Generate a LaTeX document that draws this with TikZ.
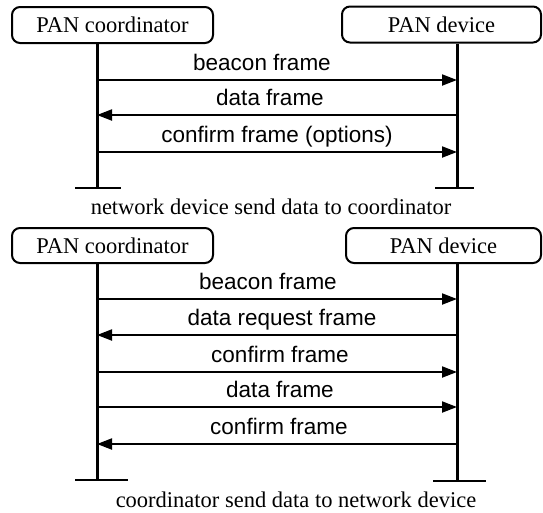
\documentclass[tikz,border=0pt]{standalone}
\usepackage{fontspec}
\setmainfont{Liberation Serif}
\newfontfamily\msgfont{Liberation Sans}
\usetikzlibrary{arrows.meta}

\tikzset{
  actor/.style={draw, line width=2pt, rounded corners=8pt, minimum height=36pt,
    inner sep=0pt, font=\fontsize{22.5}{27}\selectfont},
  lifeline/.style={line width=3pt},
  endbar/.style={line width=2.5pt},
  msg/.style={line width=2pt, -{Triangle[length=15pt,width=11pt]}},
  msglabel/.style={anchor=base, inner sep=0pt, font=\msgfont\fontsize{22.5}{27}\selectfont},
  caption/.style={anchor=base, inner sep=0pt, font=\fontsize{22.5}{27}\selectfont}
}

\begin{document}
\begin{tikzpicture}[x=1pt,y=-1pt]
\useasboundingbox[fill=white] (0,0) rectangle (543,512);

% ---------- upper chart: network device sends data to coordinator ----------
\node[actor, minimum width=201pt] (coordA) at (112.5,25) {PAN coordinator};
\node[actor, minimum width=199pt] (devA) at (441.5,24.5) {PAN device};

\coordinate (coordAend) at (97,188);
\coordinate (devAend) at (457,188);
\draw[lifeline] (coordA.south -| coordAend) -- (coordAend);
\draw[lifeline] (devA.south -| devAend) -- (devAend);
\draw[endbar] (75,188) -- (121,188);
\draw[endbar] (435,188) -- (474,188);

\coordinate (a1l) at (97,80);  \coordinate (a1r) at (457,80);
\coordinate (a2l) at (97,115); \coordinate (a2r) at (457,115);
\coordinate (a3l) at (97,152); \coordinate (a3r) at (457,152);
\draw[msg] (a1l) -- (a1r);
\draw[msg] (a2r) -- (a2l);
\draw[msg] (a3l) -- (a3r);
\node[msglabel] (la1) at (262,70) {beacon frame};
\node[msglabel] (la2) at (270,105) {data frame};
\node[msglabel] (la3) at (277,142) {confirm frame (options)};

\node[caption] (capA) at (271,214) {network device send data to coordinator};

% ---------- lower chart: coordinator sends data to network device ----------
\node[actor, minimum width=201pt, minimum height=35pt] (coordB) at (112.5,245.5) {PAN coordinator};
\node[actor, minimum width=195pt, minimum height=35pt] (devB) at (443.5,245.5) {PAN device};

\coordinate (coordBend) at (97,480);
\coordinate (devBend) at (457,481);
\draw[lifeline] (coordB.south -| coordBend) -- (coordBend);
\draw[lifeline] (devB.south -| devBend) -- (devBend);
\draw[endbar] (75,480) -- (128,480);
\draw[endbar] (433,481) -- (486,481);

\coordinate (b1l) at (97,299); \coordinate (b1r) at (457,299);
\coordinate (b2l) at (97,335); \coordinate (b2r) at (457,335);
\coordinate (b3l) at (97,372); \coordinate (b3r) at (457,372);
\coordinate (b4l) at (97,407); \coordinate (b4r) at (457,407);
\coordinate (b5l) at (97,444); \coordinate (b5r) at (457,444);
\draw[msg] (b1l) -- (b1r);
\draw[msg] (b2r) -- (b2l);
\draw[msg] (b3l) -- (b3r);
\draw[msg] (b4l) -- (b4r);
\draw[msg] (b5r) -- (b5l);
\node[msglabel] (lb1) at (268,289) {beacon frame};
\node[msglabel] (lb2) at (282,325) {data request frame};
\node[msglabel] (lb3) at (280,362) {confirm frame};
\node[msglabel] (lb4) at (280,397) {data frame};
\node[msglabel] (lb5) at (279,434) {confirm frame};

\node[caption] (capB) at (296,507) {coordinator send data to network device};
\end{tikzpicture}
\end{document}
